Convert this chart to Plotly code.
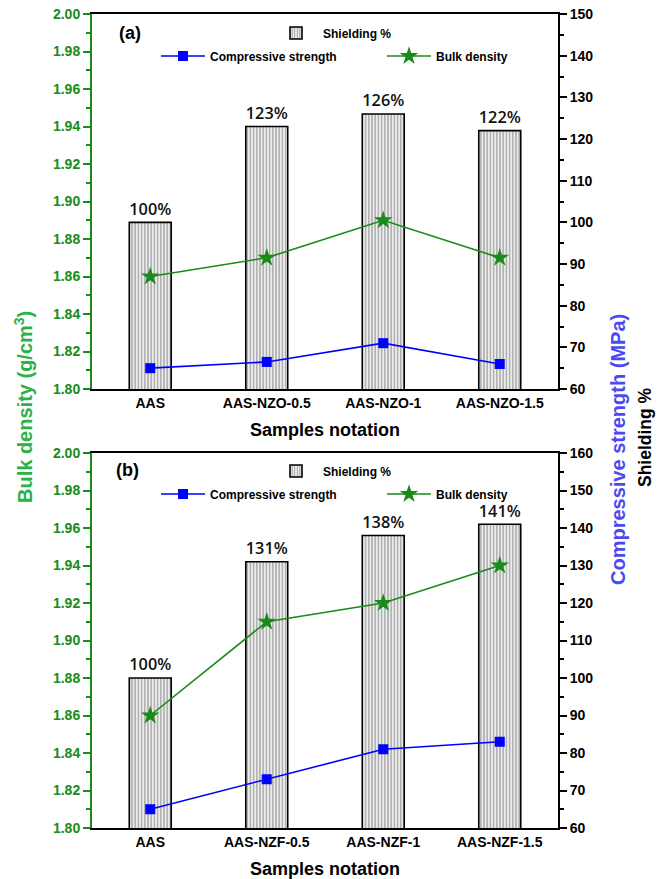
import plotly.graph_objects as go

# Sample series, panel (a): NZO additions
samples_a = ["AAS", "AAS-NZO-0.5", "AAS-NZO-1", "AAS-NZO-1.5"]
shielding_a = [100, 123, 126, 122]
compressive_a = [65, 66.5, 71, 66]
density_a = [1.86, 1.87, 1.89, 1.87]

# Sample series, panel (b): NZF additions
samples_b = ["AAS", "AAS-NZF-0.5", "AAS-NZF-1", "AAS-NZF-1.5"]
shielding_b = [100, 131, 138, 141]
compressive_b = [65, 73, 81, 83]
density_b = [1.86, 1.91, 1.92, 1.94]

W, H = 666, 879
GREEN = "#1a8a1a"
GREEN_T = "#2bb04a"
BLUE = "#0000ff"
BLUE_T = "#4a4af0"
FONT = "Liberation Sans"

X0, X1 = 92 / W, 558 / W
DOM_A = [1 - 389 / H, 1 - 14 / H]
DOM_B = [1 - 828 / H, 1 - 453 / H]

fig = go.Figure()


def add_panel(cats, shield, comp, dens, xa, yr, yl, leg_bar, leg_line):
    fig.add_trace(go.Bar(
        x=cats, y=shield, xaxis=xa, yaxis=yr, width=0.36,
        name="Shielding %", legend=leg_bar,
        marker=dict(color="white", line=dict(color="black", width=1.6),
                    pattern=dict(shape="|", fgcolor="#444444", bgcolor="#ececec",
                                 size=3.2, solidity=0.35)),
        text=[f"{v}%" for v in shield], textposition="outside",
        textfont=dict(family="Open Sans", size=18, color="#111111", weight=600),
        cliponaxis=False,
    ))
    fig.add_trace(go.Scatter(
        x=cats, y=comp, xaxis=xa, yaxis=yr, mode="lines+markers",
        name="Compressive strength", legend=leg_line,
        line=dict(color=BLUE, width=1.6),
        marker=dict(symbol="square", size=10, color=BLUE),
    ))
    fig.add_trace(go.Scatter(
        x=cats, y=dens, xaxis=xa, yaxis=yl, mode="lines+markers",
        name="Bulk density", legend=leg_line,
        line=dict(color=GREEN, width=1.6),
        marker=dict(symbol="star", size=14, color=GREEN),
    ))


add_panel(samples_a, shielding_a, compressive_a, density_a, "x", "y", "y2", "legend", "legend2")
add_panel(samples_b, shielding_b, compressive_b, density_b, "x2", "y3", "y4", "legend3", "legend4")

xcommon = dict(
    domain=[X0, X1], range=[-0.5, 3.5], showline=True, linecolor="black", linewidth=2,
    mirror=True, ticks="", showgrid=False, zeroline=False,
    tickfont=dict(family=FONT, size=14, color="black", weight="bold"),
    title=dict(text="Samples notation", standoff=14,
               font=dict(family=FONT, size=18, color="black", weight="bold")),
    automargin=False,
)
rcommon = dict(
    side="right", showline=True, linecolor="black", linewidth=2, ticks="outside",
    ticklen=7, tickwidth=2, tickcolor="black", dtick=10, showgrid=False, zeroline=False,
    minor=dict(dtick=5, ticks="outside", ticklen=4, tickwidth=2, tickcolor="black"),
    tickfont=dict(family=FONT, size=14, color="black", weight="bold"),
    automargin=False,
)
lcommon = dict(
    side="left", showline=True, linecolor=GREEN, linewidth=2, ticks="outside",
    ticklen=7, tickwidth=2, tickcolor=GREEN, dtick=0.02, tickformat=".2f",
    range=[1.8, 2.0], showgrid=False, zeroline=False,
    minor=dict(dtick=0.01, ticks="outside", ticklen=4, tickwidth=2, tickcolor=GREEN),
    tickfont=dict(family=FONT, size=14, color=GREEN, weight="bold"),
    automargin=False,
)

leg_font = dict(family=FONT, size=12, color="black", weight="bold")
leg_common = dict(xanchor="left", yanchor="middle", orientation="h", font=leg_font,
                  bgcolor="rgba(0,0,0,0)", itemwidth=44)
fig.update_layout(
    width=W, height=H, margin=dict(l=0, r=0, t=0, b=0),
    paper_bgcolor="white", plot_bgcolor="white", showlegend=True,
    xaxis=dict(anchor="y", **xcommon),
    xaxis2=dict(anchor="y3", **xcommon),
    yaxis=dict(anchor="x", domain=DOM_A, range=[60, 150], **rcommon),
    yaxis2=dict(anchor="x", overlaying="y", **lcommon),
    yaxis3=dict(anchor="x2", domain=DOM_B, range=[60, 160], **rcommon),
    yaxis4=dict(anchor="x2", overlaying="y3", **lcommon),
    legend=dict(x=269 / W, y=1 - 33 / H, **leg_common),
    legend2=dict(x=156 / W, y=1 - 56 / H, entrywidth=167, **leg_common),
    legend3=dict(x=269 / W, y=1 - 471 / H, **leg_common),
    legend4=dict(x=156 / W, y=1 - 494 / H, entrywidth=167, **leg_common),
    annotations=[
        dict(text="(a)", x=130 / W, y=1 - 33 / H, xanchor="center", yanchor="middle",
             xref="paper", yref="paper", showarrow=False,
             font=dict(family=FONT, size=18, color="black", weight="bold")),
        dict(text="(b)", x=127 / W, y=1 - 470 / H, xanchor="center", yanchor="middle",
             xref="paper", yref="paper", showarrow=False,
             font=dict(family=FONT, size=18, color="black", weight="bold")),
        dict(text="<b>Bulk density (g/cm<sup>3</sup>)</b>", x=23 / W, y=1 - 407 / H,
             xanchor="center", yanchor="middle",
             xref="paper", yref="paper", showarrow=False, textangle=-90,
             font=dict(family=FONT, size=20, color=GREEN_T)),
        dict(text="<b>Compressive strength (MPa)</b>", x=618 / W, y=1 - 450 / H,
             xanchor="center", yanchor="middle",
             xref="paper", yref="paper", showarrow=False, textangle=-90,
             font=dict(family=FONT, size=20, color=BLUE_T)),
        dict(text="<b>Shielding %</b>", x=645 / W, y=1 - 437 / H,
             xanchor="center", yanchor="middle",
             xref="paper", yref="paper", showarrow=False, textangle=-90,
             font=dict(family=FONT, size=17.5, color="black")),
    ],
)

fig.write_html("out.html")
